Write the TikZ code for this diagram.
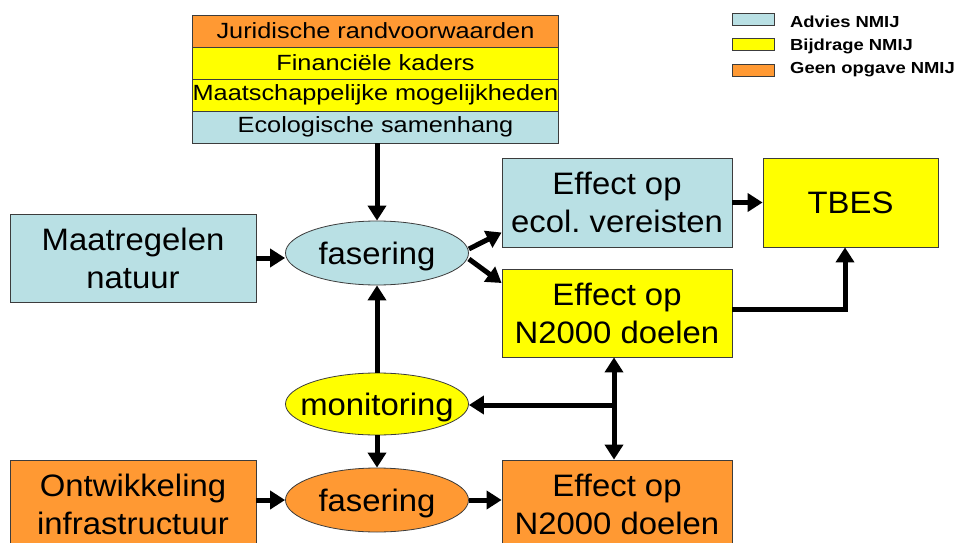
\documentclass[tikz,border=0pt]{standalone}
\usepackage{fontspec}
\setmainfont{Liberation Sans}
\newfontfamily\mainf[FakeStretch=1.06]{Liberation Sans}
\newfontfamily\stackf[FakeStretch=1.15]{Liberation Sans}
\newfontfamily\legf[FakeStretch=1.15]{Liberation Sans Bold}
\usetikzlibrary{arrows.meta,shapes.geometric}
\frenchspacing
\definecolor{lblue}{RGB}{185,224,228}
\definecolor{orng}{RGB}{255,153,51}
\definecolor{yel}{RGB}{255,255,0}
\definecolor{edge}{RGB}{60,60,60}
\tikzset{
  box/.style={draw=edge, line width=0.8pt, inner sep=0pt, align=center,
    minimum width=230pt, minimum height=88pt, font=\mainf\fontsize{31}{38}\selectfont},
  stackrow/.style={draw=edge, line width=0.8pt, inner sep=0pt, minimum width=366pt,
    minimum height=32pt, font=\stackf\fontsize{22}{26}\selectfont},
  oval/.style={draw=edge, line width=0.8pt, ellipse, inner sep=0pt,
    minimum width=183pt, minimum height=64pt},
  ovaltext/.style={font=\mainf\fontsize{31}{38}\selectfont, inner sep=0pt, yshift=-3pt},
  legbox/.style={draw=edge, line width=0.8pt, minimum width=42pt, minimum height=12pt, inner sep=0pt},
  legtext/.style={font=\legf\fontsize{16}{18}\selectfont, anchor=west, inner sep=0pt},
  arr/.style={line width=5pt, -{Triangle[length=15pt,width=18pt]}},
  darr/.style={line width=5pt, {Triangle[length=15pt,width=18pt]}-{Triangle[length=15pt,width=18pt]}}
}
\begin{document}
\begin{tikzpicture}[x=1pt,y=-1pt]
\useasboundingbox[fill=white] (0,0) rectangle (959,543);
\clip (0,0) rectangle (959,543);

% legend
\node[legbox, fill=lblue] (lg1) at (753,19) {};
\node[legbox, fill=yel] (lg2) at (753,44) {};
\node[legbox, fill=orng] (lg3) at (753,70) {};
\node[legtext] (lt1) at (790,22) {Advies NMIJ};
\node[legtext] (lt2) at (790,46) {Bijdrage NMIJ};
\node[legtext] (lt3) at (790,70) {Geen opgave NMIJ};

% top stack
\node[stackrow, fill=orng] (s1) at (375.5,31) {Juridische randvoorwaarden};
\node[stackrow, fill=yel] (s2) at (375.5,63) {Financiële kaders};
\node[stackrow, fill=yel] (s3) at (375.5,95) {Maatschappelijke mogelijkheden};
\node[stackrow, fill=lblue] (s4) at (375.5,127) {Ecologische samenhang};

% boxes
\node[box, fill=lblue, minimum width=246pt] (maat) at (133,258) {Maatregelen\\natuur};
\node[box, fill=lblue, minimum height=89pt] (ecol) at (617,202.5) {Effect op\\ecol. vereisten};
\node[box, fill=yel, minimum width=175pt, minimum height=89pt] (tbes) at (850.5,202.5) {TBES};
\node[box, fill=yel] (n2y) at (617,313) {Effect op\\N2000 doelen};
\node[box, fill=orng, minimum width=246pt] (ontw) at (133,504) {Ontwikkeling\\infrastructuur};
\node[box, fill=orng] (n2o) at (617,504) {Effect op\\N2000 doelen};

% ovals
\node[oval, fill=lblue] (fas1) at (377,253) {};
\node[ovaltext] (fas1t) at (fas1) {fasering};
\node[oval, fill=yel, minimum height=62pt] (mon) at (377,404) {};
\node[ovaltext] (mont) at (mon) {monitoring};
\node[oval, fill=orng] (fas2) at (377,500) {};
\node[ovaltext] (fas2t) at (fas2) {fasering};

% helper coordinates
\coordinate (c614) at (614,0);
\coordinate (c845) at (845,0);
\coordinate (j) at (614,405);

% connectors
\draw[arr] (s4.south -| fas1.north) -- (fas1.north);
\draw[arr] (maat.east) -- (maat.east -| fas1.west);
\draw[arr] ([yshift=4pt]fas1.east) -- ([yshift=-30pt]ecol.west);
\draw[arr] ([yshift=-6pt]fas1.east) -- ([yshift=30pt]n2y.west);
\draw[arr] (ecol.east) -- (ecol.east -| tbes.west);
\draw[arr] ([yshift=4pt]n2y.east) -| (tbes.south -| c845);
\draw[arr] (mon.north) -- (fas1.south);
\draw[arr] (mon.south) -- (fas2.north);
\draw[darr] (n2y.south -| c614) -- (n2o.north -| c614);
\draw[arr] (j) -- (j -| mon.east);
\draw[arr] (fas2.west -| ontw.east) -- (fas2.west);
\draw[arr] (fas2.east) -- (fas2.east -| n2o.west);
\end{tikzpicture}
\end{document}
